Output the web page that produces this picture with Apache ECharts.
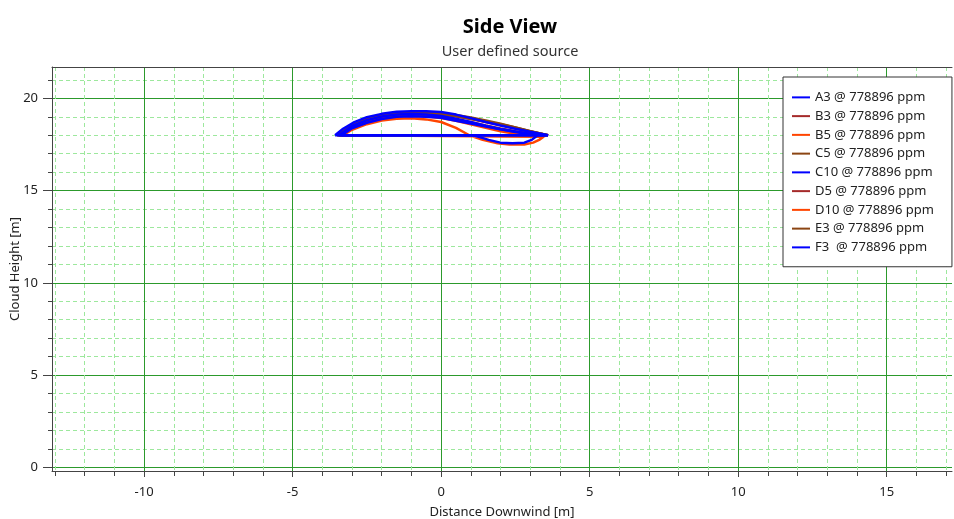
<!DOCTYPE html>
<html><head><meta charset="utf-8">
<script src="https://cdn.jsdelivr.net/npm/echarts@6/dist/echarts.min.js"></script>
<style>html,body{margin:0;padding:0;background:#fff}#c{width:954px;height:519px}</style>
</head><body><div id="c"></div>
<script>
// ---- data ----
const seriesNames = ['A3 @ 778896 ppm','B3 @ 778896 ppm','B5 @ 778896 ppm','C5 @ 778896 ppm','C10 @ 778896 ppm','D5 @ 778896 ppm','D10 @ 778896 ppm','E3 @ 778896 ppm','F3  @ 778896 ppm'];
const seriesColors = ['#0000ff','#a52a2a','#ff4500','#8b4513','#0000ff','#a52a2a','#ff4500','#8b4513','#0000ff'];

const A3 = [[-3.57,18.0],[-3.3,18.35],[-2.96,18.68],[-2.5,18.98],[-2.0,19.16],[-1.5,19.27],[-1.0,19.3],[-0.5,19.3],[0,19.26],[0.5,19.12],[1.0,18.93],[1.5,18.72],[2.0,18.53],[2.5,18.35],[3.0,18.19],[3.3,18.1],[3.6,18.0],[-3.57,18.0]];
const B3 = [[-3.5,18.0],[-3.0,18.55],[-2.5,18.88],[-2.0,19.08],[-1.5,19.2],[-1.0,19.24],[-0.5,19.22],[0,19.15],[0.5,19.03],[1.0,18.88],[1.5,18.72],[2.0,18.55],[2.5,18.38],[3.0,18.2],[3.6,18.0],[-3.5,18.0]];
const B5 = [[-3.4,18.0],[-3.0,18.35],[-2.5,18.68],[-2.0,18.88],[-1.5,19.0],[-1.0,19.05],[-0.5,19.02],[0,18.93],[0.5,18.78],[1.0,18.6],[1.5,18.4],[2.0,18.22],[2.5,18.08],[3.0,17.98],[3.3,17.92],[3.5,17.96],[3.55,18.0],[-3.4,18.0]];
const C5 = [[-3.45,18.0],[-3.0,18.45],[-2.5,18.8],[-2.0,19.0],[-1.5,19.13],[-1.0,19.18],[-0.5,19.18],[0,19.13],[0.5,19.03],[1.0,18.9],[1.5,18.75],[2.0,18.6],[2.5,18.42],[3.0,18.22],[3.6,18.0],[-3.45,18.0]];
const C10 = [[-3.45,18.0],[-3.0,18.5],[-2.5,18.82],[-2.0,19.02],[-1.5,19.12],[-1.0,19.15],[-0.5,19.13],[0,19.05],[0.5,18.9],[1.0,18.72],[1.5,18.52],[2.0,18.33],[2.5,18.18],[3.0,18.07],[3.6,18.0],[3.25,18.0],[3.05,17.75],[2.8,17.6],[2.4,17.57],[2.0,17.6],[1.6,17.75],[1.3,17.9],[1.05,18.0],[-3.45,18.0]];
const D5 = [[-3.4,18.0],[-3.0,18.4],[-2.5,18.72],[-2.0,18.93],[-1.5,19.05],[-1.0,19.1],[-0.5,19.08],[0,19.0],[0.5,18.86],[1.0,18.7],[1.5,18.53],[2.0,18.37],[2.5,18.22],[3.0,18.1],[3.55,18.0],[-3.4,18.0]];
const D10 = [[-3.3,18.0],[-3.0,18.3],[-2.5,18.6],[-2.0,18.8],[-1.5,18.9],[-1.0,18.92],[-0.5,18.86],[0,18.72],[0.5,18.4],[0.95,18.0],[1.4,17.75],[1.9,17.57],[2.3,17.5],[2.8,17.5],[3.1,17.6],[3.3,17.75],[3.45,17.92],[3.5,18.0],[-3.3,18.0]];
const E3 = [[-3.5,18.0],[-3.0,18.5],[-2.5,18.85],[-2.0,19.05],[-1.5,19.17],[-1.0,19.22],[-0.5,19.23],[0,19.2],[0.5,19.1],[1.0,18.97],[1.5,18.8],[2.0,18.62],[2.5,18.42],[3.0,18.22],[3.6,18.0],[-3.5,18.0]];
const F3 = [[-3.35,18.0],[-3.0,18.38],[-2.5,18.68],[-2.0,18.88],[-1.5,19.0],[-1.0,19.03],[-0.5,19.0],[0,18.95],[0.5,18.78],[1.0,18.63],[1.5,18.47],[2.0,18.33],[2.5,18.2],[3.0,18.07],[3.5,18.0],[-3.35,18.0]];
const seriesData = [A3,B3,B5,C5,C10,D5,D10,E3,F3];

const xMajorTicks = [-10,-5,0,5,10,15];
const xMinorTicks = [-13,-12,-11,-10,-9,-8,-7,-6,-5,-4,-3,-2,-1,0,1,2,3,4,5,6,7,8,9,10,11,12,13,14,15,16,17];
const yMajorTicks = [0,5,10,15,20];
const yMinorTicks = [0,1,2,3,4,5,6,7,8,9,10,11,12,13,14,15,16,17,18,19,20,21];

// ---- chart ----
const FONT = 'Noto Sans';
const XMIN = -13.1, XMAX = 17.2, YMIN = -0.2, YMAX = 21.7;
const minorLine = {show:true, lineStyle:{color:'#9de89d', type:[4,3], width:1}};
const majorLine = {show:true, lineStyle:{color:'#2c9a2c', type:'solid', width:1}};
const axisCol = '#444';
const labelStyle = {color:'#222', fontFamily:FONT, fontSize:13};

const chart = echarts.init(document.getElementById('c'), null, {renderer:'canvas'});
chart.setOption({
  animation:false,
  backgroundColor:'#fff',
  title:{
    text:'Side View', subtext:'User defined source',
    left:505, top:12, textAlign:'center', itemGap:7,
    textStyle:{fontFamily:FONT, fontWeight:'bold', fontSize:20, color:'#000'},
    subtextStyle:{fontFamily:FONT, fontSize:14.5, color:'#333'}
  },
  grid:{left:52, top:67, width:900, height:404, containLabel:false, outerBoundsMode:'none'},
  legend:{
    orient:'vertical', left:783, top:77,
    backgroundColor:'#fff', borderColor:'#333', borderWidth:1,
    padding:[11,18,10,9], itemGap:0, itemWidth:18, itemHeight:2,
    icon:'rect',
    textStyle:{fontFamily:FONT, fontSize:13, color:'#222', lineHeight:18.75, padding:[0,0,0,0]},
    data:seriesNames
  },
  xAxis:[
    {type:'value', min:XMIN, max:XMAX, position:'bottom',
     axisLine:{show:true, onZero:false, lineStyle:{color:axisCol}},
     axisTick:{show:true, length:5, customValues:xMinorTicks, lineStyle:{color:axisCol}},
     axisLabel:{show:false}, splitLine:minorLine},
    {type:'value', min:XMIN, max:XMAX, position:'bottom',
     name:'Distance Downwind [m]', nameLocation:'middle', nameGap:35, nameMoveOverlap:false,
     nameTextStyle:{fontFamily:FONT, fontSize:13, color:'#222'},
     axisLine:{show:false, onZero:false},
     axisTick:{show:true, length:6, customValues:xMajorTicks, lineStyle:{color:axisCol}},
     axisLabel:Object.assign({customValues:xMajorTicks, margin:15}, labelStyle),
     splitLine:majorLine},
    {type:'value', min:XMIN, max:XMAX, position:'top',
     axisLine:{show:true, onZero:false, lineStyle:{color:axisCol}},
     axisTick:{show:false}, axisLabel:{show:false}, splitLine:{show:false}}
  ],
  yAxis:[
    {type:'value', min:YMIN, max:YMAX, position:'left',
     axisLine:{show:true, onZero:false, lineStyle:{color:axisCol}},
     axisTick:{show:true, length:4, customValues:yMinorTicks, lineStyle:{color:axisCol}},
     axisLabel:{show:false}, splitLine:minorLine},
    {type:'value', min:YMIN, max:YMAX, position:'left',
     name:'Cloud Height [m]', nameLocation:'middle', nameGap:30, nameRotate:90, nameMoveOverlap:false,
     nameTextStyle:{fontFamily:FONT, fontSize:13, color:'#222'},
     axisLine:{show:false, onZero:false},
     axisTick:{show:true, length:9, customValues:yMajorTicks, lineStyle:{color:axisCol}},
     axisLabel:Object.assign({customValues:yMajorTicks, margin:14}, labelStyle),
     splitLine:majorLine}
  ],
  series: seriesNames.map((n,i)=>({
    name:n, type:'line', data:seriesData[i], xAxisIndex:0, yAxisIndex:0,
    showSymbol:false, symbol:'none', smooth:false,
    z: seriesColors[i]==='#0000ff' ? 5 : 3,
    lineStyle:{color:seriesColors[i], width:2.5},
    itemStyle:{color:seriesColors[i]},
    emphasis:{disabled:true}
  }))
});
</script></body></html>
